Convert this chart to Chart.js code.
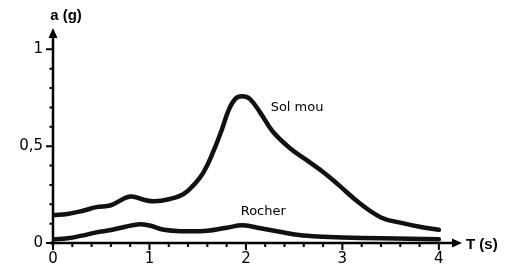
<!DOCTYPE html>
<html lang="fr">
<head>
  <meta charset="UTF-8">
  <title>Spectre de réponse</title>
  <script src="https://cdn.jsdelivr.net/npm/chart.js@4"></script>
  <style>
    body { margin: 0; background: #fff; }
    canvas { display: block; }
  </style>
</head>
<body>
  <canvas id="spectre" width="510" height="273"></canvas>

  <script>
    // valeurs : période T (s) et accélération a (g)
    const solMouT = [0, 0.15, 0.3, 0.45, 0.6, 0.8, 0.95, 1.05, 1.2, 1.35, 1.45, 1.56, 1.66, 1.75, 1.82, 1.89, 1.96, 2.04, 2.15, 2.28, 2.46, 2.63, 2.8, 2.96, 3.18, 3.4, 3.6, 3.8, 4.0];
    const solMouA = [0.144, 0.15, 0.165, 0.185, 0.195, 0.24, 0.222, 0.215, 0.226, 0.252, 0.295, 0.365, 0.47, 0.585, 0.685, 0.744, 0.757, 0.744, 0.672, 0.574, 0.488, 0.428, 0.367, 0.3, 0.205, 0.132, 0.105, 0.084, 0.068];
    const rocherT = [0, 0.15, 0.3, 0.45, 0.6, 0.75, 0.88, 1.0, 1.15, 1.35, 1.6, 1.8, 1.97, 2.15, 2.35, 2.55, 2.8, 3.0, 3.4, 4.0];
    const rocherA = [0.019, 0.024, 0.038, 0.055, 0.067, 0.084, 0.096, 0.09, 0.068, 0.061, 0.063, 0.079, 0.091, 0.076, 0.058, 0.041, 0.032, 0.029, 0.024, 0.019];

    const xTicks = [0, 1, 2, 3, 4];
    const yTicks = [0, 0.5, 1];
    const xMinor = [0.2, 0.4, 0.6, 0.8, 1.2, 1.4, 1.6, 1.8, 2.2, 2.4, 2.6, 2.8, 3.2, 3.4, 3.6, 3.8];
    const yMinor = [0.1, 0.2, 0.3, 0.4, 0.6, 0.7, 0.8, 0.9, 1.0];
    const curveLabels = ["Sol mou", "Rocher"];
    const curveLabelPos = [[2.53, 0.70], [2.18, 0.16]];

    const toPoints = (ts, as) => ts.map((t, i) => ({ x: t, y: as[i] }));

    // axes fléchés, graduations et textes
    const axesPlugin = {
      id: "axes",
      beforeDatasetsDraw(chart) {
        const { ctx, scales: { x, y } } = chart;
        const x0 = x.getPixelForValue(0), y0 = y.getPixelForValue(0);
        const xEnd = x.getPixelForValue(x.max), yEnd = y.getPixelForValue(y.max);
        ctx.save();
        ctx.strokeStyle = "#000";
        ctx.fillStyle = "#000";
        ctx.lineWidth = 2.5;
        ctx.beginPath();
        ctx.moveTo(x0, y0 + 3); ctx.lineTo(x0, yEnd + 6);
        ctx.moveTo(x0 - 3, y0); ctx.lineTo(xEnd - 6, y0);
        ctx.stroke();
        // flèches
        ctx.beginPath();
        ctx.moveTo(x0, yEnd); ctx.lineTo(x0 - 4.5, yEnd + 10); ctx.lineTo(x0 + 4.5, yEnd + 10); ctx.closePath();
        ctx.moveTo(xEnd, y0); ctx.lineTo(xEnd - 10, y0 - 4.5); ctx.lineTo(xEnd - 10, y0 + 4.5); ctx.closePath();
        ctx.fill();
        // graduations
        ctx.lineWidth = 2;
        ctx.beginPath();
        xTicks.forEach(v => { const p = x.getPixelForValue(v); ctx.moveTo(p, y0); ctx.lineTo(p, y0 + 7); });
        xMinor.forEach(v => { const p = x.getPixelForValue(v); ctx.moveTo(p, y0); ctx.lineTo(p, y0 + 4); });
        yTicks.forEach(v => { const p = y.getPixelForValue(v); ctx.moveTo(x0, p); ctx.lineTo(x0 - 7, p); });
        yMinor.forEach(v => { const p = y.getPixelForValue(v); ctx.moveTo(x0, p); ctx.lineTo(x0 - 3.5, p); });
        ctx.stroke();
        ctx.restore();
      },
      afterDraw(chart) {
        const { ctx, scales: { x, y } } = chart;
        ctx.save();
        ctx.fillStyle = "#000";
        ctx.textBaseline = "middle";
        ctx.font = "bold 15px 'Liberation Sans', sans-serif";
        ctx.textAlign = "center";
        ctx.fillText("a (g)", x.getPixelForValue(0) + 13, 16);
        ctx.textAlign = "left";
        ctx.fillText("T (s)", x.getPixelForValue(x.max) + 4, y.getPixelForValue(0) + 2);
        ctx.font = "13px 'DejaVu Sans', sans-serif";
        ctx.textAlign = "center";
        curveLabels.forEach((txt, i) => {
          const [t, a] = curveLabelPos[i];
          ctx.fillText(txt, x.getPixelForValue(t), y.getPixelForValue(a));
        });
        ctx.restore();
      }
    };

    const lineStyle = {
      borderColor: "#111",
      borderWidth: 4.5,
      pointRadius: 0,
      fill: false,
      tension: 0.4,
      borderCapStyle: "round",
      borderJoinStyle: "round"
    };

    new Chart(document.getElementById("spectre"), {
      type: "line",
      data: {
        datasets: [
          { label: "Sol mou", data: toPoints(solMouT, solMouA), ...lineStyle },
          { label: "Rocher", data: toPoints(rocherT, rocherA), ...lineStyle }
        ]
      },
      options: {
        responsive: false,
        devicePixelRatio: 1,
        animation: false,
        layout: { padding: { top: 28, right: 48, left: 0, bottom: 0 } },
        plugins: { legend: { display: false }, tooltip: { enabled: false } },
        scales: {
          x: {
            type: "linear",
            min: 0,
            max: 4.24,
            grid: { display: false, drawTicks: false },
            border: { display: false },
            afterBuildTicks: s => { s.ticks = xTicks.map(v => ({ value: v })); },
            afterFit: s => { s.height = 30; },
            ticks: {
              padding: 7,
              color: "#000",
              font: { family: "'DejaVu Sans', sans-serif", size: 15 },
              callback: v => String(v)
            }
          },
          y: {
            type: "linear",
            min: 0,
            max: 1.11,
            grid: { display: false, drawTicks: false },
            border: { display: false },
            afterBuildTicks: s => { s.ticks = yTicks.map(v => ({ value: v })); },
            afterFit: s => { s.width = 53; },
            ticks: {
              padding: 10,
              color: "#000",
              font: { family: "'DejaVu Sans', sans-serif", size: 15 },
              callback: v => String(v).replace(".", ",")
            }
          }
        }
      },
      plugins: [axesPlugin]
    });
  </script>
</body>
</html>
